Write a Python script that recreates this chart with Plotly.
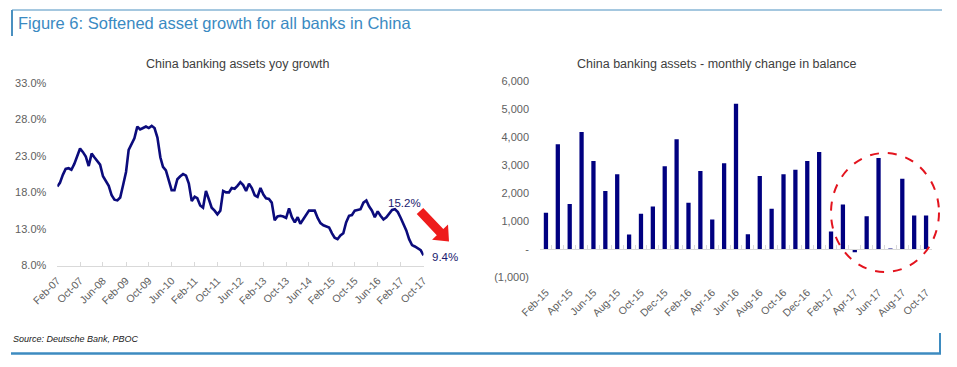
import numpy as np
import pandas as pd
import plotly.graph_objects as go

W, H = 957, 367

# ---------------- data ----------------
yoy_start = "2007-02-01"
yoy_growth = [
    18.8, 19.3, 20.4, 21.2, 21.3, 21.1, 21.9, 22.9, 24.0, 23.5,
    22.9, 21.6, 23.3, 22.8, 22.3, 21.8, 20.2, 19.5, 18.9, 17.6,
    17.0, 16.9, 17.3, 19.0, 20.8, 23.8, 24.7, 25.4, 27.0, 26.6,
    26.8, 27.0, 26.8, 27.1, 26.8, 25.5, 22.8, 21.5, 21.0, 19.8,
    18.3, 18.3, 19.8, 20.2, 20.5, 20.3, 19.2, 16.8, 17.4, 17.2,
    16.2, 15.9, 18.2, 17.1, 15.9, 15.5, 15.0, 15.5, 18.2, 18.0,
    18.0, 18.6, 18.5, 18.9, 19.4, 19.0, 18.2, 19.2, 18.6, 17.6,
    17.4, 18.6, 17.7, 17.2, 17.1, 16.6, 14.2, 14.7, 14.8, 14.7,
    14.5, 15.8, 14.6, 13.9, 14.6, 13.7, 14.3, 14.8, 15.5, 15.5,
    15.5, 14.5, 13.8, 13.5, 13.3, 13.2, 12.4, 11.8, 11.6, 12.1,
    12.4, 13.9, 14.8, 14.9, 15.5, 15.6, 15.7, 16.6, 16.9, 16.1,
    15.5, 14.6, 15.4, 14.8, 14.3, 14.6, 15.1, 15.6, 15.7, 15.3,
    14.5, 13.7, 12.8, 11.6, 10.8, 10.6, 10.4, 10.1, 9.4,
]
yoy_ticks = ["Feb-07", "Oct-07", "Jun-08", "Feb-09", "Oct-09", "Jun-10",
             "Feb-11", "Oct-11", "Jun-12", "Feb-13", "Oct-13", "Jun-14",
             "Feb-15", "Oct-15", "Jun-16", "Feb-17", "Oct-17"]
yoy_y_ticks = [8, 13, 18, 23, 28, 33]
yoy_y_labels = ["8.0%", "13.0%", "18.0%", "23.0%", "28.0%", "33.0%"]

bar_months = ["Feb-15", "Mar-15", "Apr-15", "May-15", "Jun-15", "Jul-15", "Aug-15",
              "Sep-15", "Oct-15", "Nov-15", "Dec-15", "Jan-16", "Feb-16", "Mar-16",
              "Apr-16", "May-16", "Jun-16", "Jul-16", "Aug-16", "Sep-16", "Oct-16",
              "Nov-16", "Dec-16", "Jan-17", "Feb-17", "Mar-17", "Apr-17", "May-17",
              "Jun-17", "Jul-17", "Aug-17", "Sep-17", "Oct-17"]
monthly_change = [1300, 3750, 1620, 4180, 3150, 2080, 2680, 530, 1270, 1530,
                  2960, 3920, 1660, 2790, 1060, 3070, 5190, 540, 2610, 1450,
                  2680, 2840, 3150, 3470, 640, 1600, -100, 1180, 3260, 30,
                  2520, 1210, 1210]
bar_y_ticks = [-1000, 0, 1000, 2000, 3000, 4000, 5000, 6000]
bar_y_labels = ["(1,000)", "-", "1,000", "2,000", "3,000", "4,000", "5,000", "6,000"]

# ---------------- helpers ----------------
def px(x):
    return x / W

def py(y):
    return 1 - y / H

NAVY = "#0b0b7c"
GRAY = "#606060"
BLUE = "#3d8bc0"
FONT = "Arial, Liberation Sans, sans-serif"

dates = pd.date_range(yoy_start, periods=len(yoy_growth), freq="MS")
tick_dates = dates[::8]

fig = go.Figure()

fig.add_trace(go.Scatter(x=dates, y=yoy_growth, mode="lines",
                         line=dict(color=NAVY, width=2.6), xaxis="x", yaxis="y",
                         hoverinfo="skip", showlegend=False))

bar_idx = list(range(len(monthly_change)))
fig.add_trace(go.Bar(x=bar_idx, y=monthly_change, marker=dict(color="#000080", line_width=0),
                     width=0.36, xaxis="x2", yaxis="y2", showlegend=False))
# invisible trace to carry the zero-line tick axis
fig.add_trace(go.Scatter(x=[-0.5], y=[0], mode="markers", marker=dict(opacity=0),
                         xaxis="x3", yaxis="y2", showlegend=False, hoverinfo="skip"))

left_dom = [px(57.3), px(423.5)]
left_ydom = [py(265.5), py(82.7)]
right_dom = [px(540), px(932)]
right_ydom = [py(277.4), py(81)]

fig.update_layout(
    width=W, height=H, autosize=False,
    margin=dict(l=0, r=0, t=0, b=0, pad=0, autoexpand=False),
    paper_bgcolor="white", plot_bgcolor="white",
    font=dict(family=FONT, color=GRAY, size=11),
    showlegend=False,
    xaxis=dict(domain=left_dom, anchor="y", range=[dates[0], dates[-1]],
               tickvals=tick_dates, ticktext=yoy_ticks, tickangle=-45,
               tickfont=dict(size=10.5, color=GRAY), showgrid=False,
               showline=True, linecolor="#d9d9d9", linewidth=1,
               ticks="inside", ticklen=4, tickcolor="#d9d9d9",
               ticklabelstandoff=4, zeroline=False, automargin=False),
    yaxis=dict(domain=left_ydom, anchor="x", range=[8, 33],
               tickvals=yoy_y_ticks, ticktext=yoy_y_labels,
               tickfont=dict(size=11, color=GRAY), showgrid=False, showline=False,
               zeroline=False, ticks="", ticklabelstandoff=10, automargin=False),
    xaxis2=dict(domain=right_dom, anchor="y2", range=[-0.5, len(monthly_change) - 0.5],
                tickvals=bar_idx[::2], ticktext=bar_months[::2], tickangle=-45,
                tickfont=dict(size=10.5, color=GRAY), showgrid=False, showline=False,
                zeroline=False, ticks="", ticklabelstandoff=6, automargin=False),
    xaxis3=dict(overlaying="x2", anchor="free", position=py(249.3),
                range=[-0.5, len(monthly_change) - 0.5],
                tickvals=[i + 0.5 for i in bar_idx[:-1]], showticklabels=False,
                ticks="inside", ticklen=4, tickcolor="#d9d9d9",
                showline=True, linecolor="#d9d9d9", linewidth=1,
                showgrid=False, zeroline=False, automargin=False),
    yaxis2=dict(domain=right_ydom, anchor="x2", range=[-1000, 6000],
                tickvals=bar_y_ticks, ticktext=bar_y_labels,
                tickfont=dict(size=11, color=GRAY), showgrid=False, showline=False,
                zeroline=False, ticks="", ticklabelstandoff=10, automargin=False),
)

ann = []
ann.append(dict(text="Figure 6: Softened asset growth for all banks in China",
                x=px(16), y=py(23), xref="paper", yref="paper", xanchor="left",
                yanchor="middle", showarrow=False,
                font=dict(family=FONT, size=16.5, color="#3a8ac2")))
ann.append(dict(text="China banking assets yoy growth", x=px(237), y=py(64),
                xref="paper", yref="paper", xanchor="center", yanchor="middle",
                showarrow=False, font=dict(family=FONT, size=12.5, color="#404040")))
ann.append(dict(text="China banking assets - monthly change in balance", x=px(716), y=py(64),
                xref="paper", yref="paper", xanchor="center", yanchor="middle",
                showarrow=False, font=dict(family=FONT, size=12.5, color="#404040")))
ann.append(dict(text="<i>Source: Deutsche Bank, PBOC</i>", x=px(11), y=py(339),
                xref="paper", yref="paper", xanchor="left", yanchor="middle",
                showarrow=False, font=dict(family=FONT, size=9, color="#222222")))
ann.append(dict(text="15.2%", x=px(404), y=py(203), xref="paper", yref="paper",
                xanchor="center", yanchor="middle", showarrow=False,
                font=dict(family=FONT, size=11.5, color="#1a1a6e")))
ann.append(dict(text="9.4%", x=px(445), y=py(257), xref="paper", yref="paper",
                xanchor="center", yanchor="middle", showarrow=False,
                font=dict(family=FONT, size=11.5, color="#1a1a6e")))
fig.update_layout(annotations=ann)

shapes = []
# frame decorations
shapes.append(dict(type="line", xref="paper", yref="paper", x0=px(12), x1=px(942),
                   y0=py(10), y1=py(10), line=dict(color="#4a90c0", width=1)))
shapes.append(dict(type="line", xref="paper", yref="paper", x0=px(12), x1=px(12),
                   y0=py(10), y1=py(36), line=dict(color="#4a90c0", width=2)))
shapes.append(dict(type="line", xref="paper", yref="paper", x0=px(11), x1=px(941),
                   y0=py(353.5), y1=py(353.5), line=dict(color=BLUE, width=2.5)))
shapes.append(dict(type="line", xref="paper", yref="paper", x0=px(940), x1=px(940),
                   y0=py(333), y1=py(354), line=dict(color=BLUE, width=2)))

# red arrow polygon (pixel geometry)
tail = np.array([420.0, 211.0])
tip = np.array([449.0, 241.5])
u = (tip - tail) / np.linalg.norm(tip - tail)
n = np.array([-u[1], u[0]])
base = tip - 13 * u
pts = [tail + 4.5 * n, base + 4.5 * n, base + 11 * n, tip,
       base - 11 * n, base - 4.5 * n, tail - 4.5 * n]
path = "M " + " L ".join(f"{px(p[0]):.5f},{py(p[1]):.5f}" for p in pts) + " Z"
shapes.append(dict(type="path", xref="paper", yref="paper", path=path,
                   fillcolor="#ee1c1c", line=dict(width=0)))

# red dashed circle
shapes.append(dict(type="circle", xref="paper", yref="paper",
                   x0=px(831), x1=px(939), y0=py(272), y1=py(153),
                   line=dict(color="#e3141e", width=2, dash="dash")))
fig.update_layout(shapes=shapes)

fig.write_html("out.html",
               config={"displayModeBar": False, "staticPlot": True},
               post_script="document.body.style.margin='0';document.body.style.overflow='hidden';")
